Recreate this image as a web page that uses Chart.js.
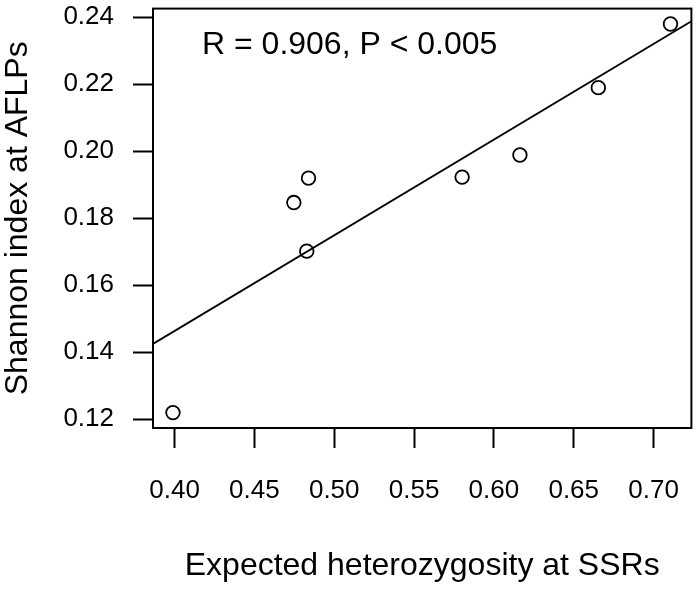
<!DOCTYPE html>
<html>
<head>
<meta charset="utf-8">
<script src="https://cdn.jsdelivr.net/npm/chart.js@4/dist/chart.umd.min.js"></script>
<style>
  html, body { margin: 0; padding: 0; background: #fff; }
  #wrap { width: 700px; height: 589px; position: relative; }
</style>
</head>
<body>
<div id="wrap"><canvas id="scatter"></canvas></div>
<script>
// values
const heSSR = [0.399, 0.4747, 0.4839, 0.4828, 0.5801, 0.6163, 0.6654, 0.7106];
const shannonAFLP = [0.122, 0.1847, 0.192, 0.1702, 0.1923, 0.1989, 0.219, 0.238];
const fitX = [0.3865, 0.7237];
const fitY = [0.1425, 0.2388];
const xTicks = [0.40, 0.45, 0.50, 0.55, 0.60, 0.65, 0.70];
const yTicks = [0.12, 0.14, 0.16, 0.18, 0.20, 0.22, 0.24];
const xTitle = 'Expected heterozygosity at SSRs';
const yTitle = 'Shannon index at AFLPs';
const note = 'R = 0.906, P < 0.005';

const FONT = '"Liberation Sans", Arial, sans-serif';

// no extra room for overhanging tick labels, the plot box is fixed
function noPad(s) {
  s.paddingTop = 0; s.paddingBottom = 0; s.paddingLeft = 0; s.paddingRight = 0;
}

const textPlugin = {
  id: 'rtext',
  afterDraw(chart) {
    const { ctx, chartArea: a } = chart;
    ctx.save();
    ctx.strokeStyle = '#000';
    ctx.lineWidth = 2;
    ctx.strokeRect(a.left, a.top, a.right - a.left, a.bottom - a.top);
    ctx.fillStyle = '#000';
    ctx.font = '32px ' + FONT;
    ctx.textAlign = 'left';
    ctx.textBaseline = 'alphabetic';
    ctx.fillText(note, 202, 54);
    ctx.textAlign = 'center';
    ctx.fillText(xTitle, (a.left + a.right) / 2, 575);
    ctx.translate(27, (a.top + a.bottom) / 2);
    ctx.rotate(-Math.PI / 2);
    ctx.fillText(yTitle, 0, 0);
    ctx.restore();
  }
};

const ctx = document.getElementById('scatter').getContext('2d');
new Chart(ctx, {
  type: 'scatter',
  data: {
    datasets: [
      {
        label: 'fit',
        type: 'line',
        data: fitX.map((x, i) => ({ x, y: fitY[i] })),
        borderColor: '#000',
        borderWidth: 1.8,
        pointRadius: 0,
        fill: false
      },
      {
        label: 'populations',
        data: heSSR.map((x, i) => ({ x, y: shannonAFLP[i] })),
        pointRadius: 6.8,
        pointBorderWidth: 1.8,
        borderColor: '#000',
        backgroundColor: 'rgba(0,0,0,0)',
        pointHoverRadius: 6.8
      }
    ]
  },
  options: {
    responsive: true,
    maintainAspectRatio: false,
    animation: false,
    layout: { padding: { left: 0, top: 4, right: 6, bottom: 0 } },
    plugins: { legend: { display: false }, tooltip: { enabled: false } },
    scales: {
      x: {
        type: 'linear',
        min: 0.3865,
        max: 0.7237,
        afterFit: (s) => { s.height = 161; noPad(s); },
        afterBuildTicks: (s) => { s.ticks = xTicks.map(v => ({ value: v })); },
        grid: { drawOnChartArea: false, tickLength: 20, tickWidth: 2, tickColor: '#000' },
        border: { display: true, color: '#000', width: 2 },
        ticks: {
          color: '#000',
          padding: 27,
          maxRotation: 0,
          autoSkip: false,
          font: { family: FONT, size: 26 },
          callback: (v) => v.toFixed(2)
        }
      },
      y: {
        type: 'linear',
        min: 0.1174,
        max: 0.2426,
        afterFit: (s) => { s.width = 153; noPad(s); },
        afterBuildTicks: (s) => { s.ticks = yTicks.map(v => ({ value: v })); },
        grid: { drawOnChartArea: false, tickLength: 20, tickWidth: 2, tickColor: '#000' },
        border: { display: true, color: '#000', width: 2 },
        ticks: {
          color: '#000',
          padding: 19,
          autoSkip: false,
          font: { family: FONT, size: 26 },
          callback: (v) => v.toFixed(2)
        }
      }
    }
  },
  plugins: [textPlugin]
});
</script>
</body>
</html>
